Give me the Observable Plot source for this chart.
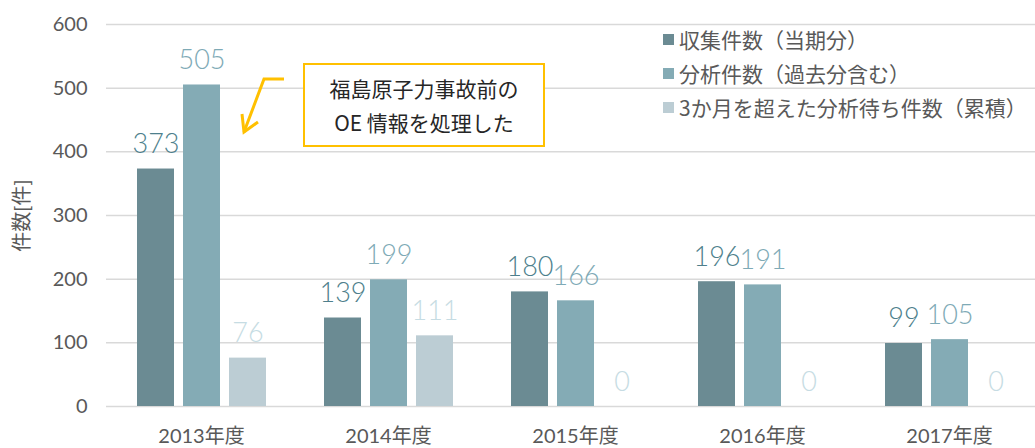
<!DOCTYPE html>
<html><head><meta charset="utf-8">
<script src="https://cdn.jsdelivr.net/npm/d3@7"></script>
<script src="https://cdn.jsdelivr.net/npm/@observablehq/plot@0.6"></script>
<style>
html,body{margin:0;padding:0;background:#fff;overflow:hidden}
#wrap{position:relative;width:1035px;height:448px;font-family:Lato,"Noto Sans CJK JP",sans-serif;}
#grid,#chart{position:absolute;left:0;top:0}
#grid svg,#chart svg{display:block;overflow:hidden}
.legend{position:absolute;left:663px;top:22px;color:#595959;font-size:21px;font-family:"Noto Sans CJK JP",sans-serif}
.legend .row{display:flex;align-items:center;height:34px;white-space:nowrap}
.legend .sw{display:inline-block;width:11px;height:11px;margin-right:5px}
.note{position:absolute;left:303px;top:63px;width:242px;height:84px;box-sizing:border-box;border:2px solid #FFC000;background:#fff;
  color:#262626;font-family:"Noto Sans CJK JP",sans-serif;font-size:21px;line-height:34px;text-align:center;padding-top:6px;white-space:nowrap}
.arrow{position:absolute;left:0;top:0;pointer-events:none}
</style>
</head><body>
<div id="wrap">
  <div id="grid"></div>
  <div id="chart"></div>
  <div class="legend" id="legend"></div>
  <svg class="arrow" width="1035" height="448">
    <polyline points="284,79 264,79 244,132" fill="none" stroke="#FFC000" stroke-width="3"/>
    <polyline points="242,114 244,132 258,122" fill="none" stroke="#FFC000" stroke-width="3"/>
  </svg>
  <div class="note">福島原子力事故前の<br>OE 情報を処理した</div>
</div>
<script>
const years = ["2013年度","2014年度","2015年度","2016年度","2017年度"];
const seriesNames = ["収集件数（当期分）","分析件数（過去分含む）","3か月を超えた分析待ち件数（累積）"];
const collected = [373,139,180,196,99];
const analyzed = [505,199,166,191,105];
const backlog = [76,111,0,0,0];
const barColors = ["#6b8b93","#84abb5","#bccdd4"];
const labelColors = ["#4e7f8c","#7eaab6","#c6dce3"];
const yTicks = [0,100,200,300,400,500,600];

const seriesValues = [collected, analyzed, backlog];
const rows = [];
seriesNames.forEach((s, i) => years.forEach((y, j) => rows.push({year: y, series: s, idx: i, value: seriesValues[i][j]})));

const font = 'Lato, "Noto Sans CJK JP", sans-serif';
const common = {
  width: 1035, height: 448,
  marginTop: 24, marginBottom: 42,
  style: {fontFamily: font, fontSize: "20px", color: "#595959", background: "transparent"},
  y: {domain: [0, 600]}
};

// background layer: gridlines and y axis spanning the whole frame
const grid = Plot.plot({
  ...common,
  marginLeft: 106, marginRight: 0,
  marks: [
    Plot.gridY(yTicks, {stroke: "#d9d9d9", strokeOpacity: 1, strokeWidth: 1.5}),
    Plot.axisY({ticks: yTicks, tickSize: 0, tickPadding: 19, fontSize: 20, label: "件数[件]", labelAnchor: "center", labelOffset: 92, labelArrow: false})
  ]
});
document.getElementById("grid").appendChild(grid);

const labelMarks = seriesNames.map((s, i) => Plot.text(rows.filter(d => d.idx === i), {
  fx: "year", x: "series", y: "value", text: d => String(d.value),
  fill: labelColors[i], fontSize: 27, fontWeight: 300, lineAnchor: "bottom", dy: -16
}));

// foreground layer: grouped bars
const chart = Plot.plot({
  ...common,
  marginLeft: 125, marginRight: 10,
  fx: {domain: years, paddingInner: 0.2, paddingOuter: 0, label: null},
  x: {domain: seriesNames, padding: 0.2, axis: null},
  color: {domain: seriesNames, range: barColors},
  marks: [
    Plot.axisFx({anchor: "bottom", tickSize: 0, tickPadding: 22, fontSize: 20, label: null}),
    Plot.axisY({ticks: [], label: null, tickSize: 0}),
    Plot.barY(rows, {fx: "year", x: "series", y: "value", fill: "series"}),
    ...labelMarks
  ]
});
document.getElementById("chart").appendChild(chart);

const lg = document.getElementById("legend");
seriesNames.forEach((s, i) => {
  const r = document.createElement("div");
  r.className = "row";
  r.innerHTML = `<span class="sw" style="background:${barColors[i]}"></span><span>${s}</span>`;
  lg.appendChild(r);
});
</script>
</body></html>
